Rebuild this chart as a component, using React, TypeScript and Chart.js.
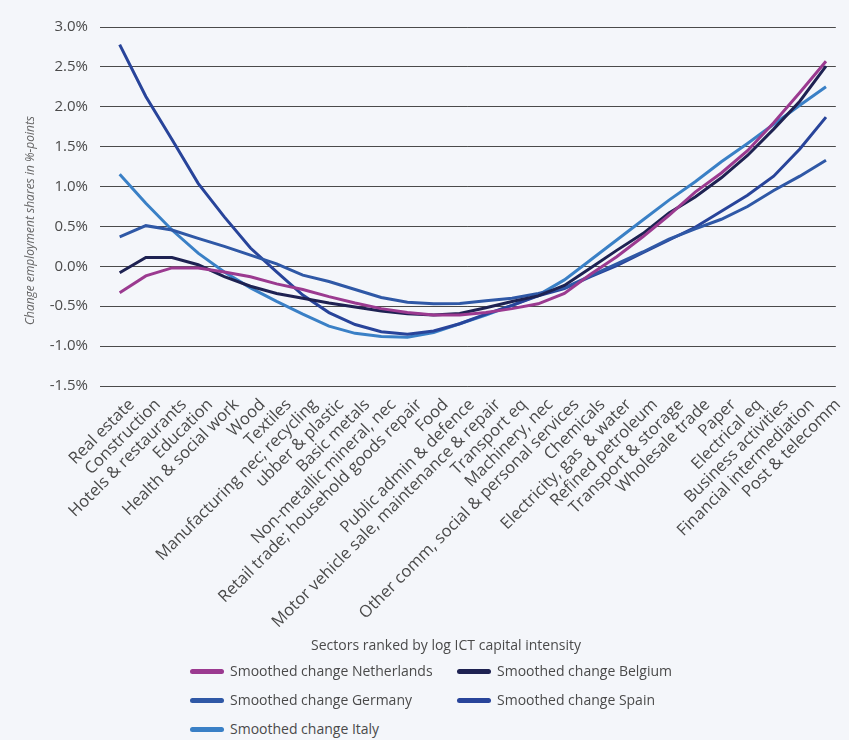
import React, { useEffect, useRef } from "react";
import { Chart, registerables } from "chart.js";

Chart.register(...registerables);

const categories = [
  "Real estate",
  "Construction",
  "Hotels & restaurants",
  "Education",
  "Health & social work",
  "Wood",
  "Textiles",
  "Manufacturing nec; recycling",
  "ubber & plastic",
  "Basic metals",
  "Non-metallic mineral, nec",
  "Retail trade; household goods repair",
  "Food",
  "Public admin & defence",
  "Motor vehicle sale, maintenance & repair",
  "Transport eq",
  "Machinery, nec",
  "Other comm, social & personal services",
  "Chemicals",
  "Electricity, gas  & water",
  "Refined petroleum",
  "Transport & storage",
  "Wholesale trade",
  "Paper",
  "Electrical eq",
  "Business activities",
  "Financial intermediation",
  "Post & telecomm",
];

const netherlands = [
  -0.33, -0.12, -0.02, -0.02, -0.07, -0.13, -0.22, -0.29, -0.38, -0.46, -0.53,
  -0.58, -0.61, -0.61, -0.58, -0.53, -0.47, -0.34, -0.1, 0.12, 0.37, 0.64, 0.93,
  1.17, 1.45, 1.8, 2.18, 2.57,
];
const belgium = [
  -0.08, 0.11, 0.11, 0.02, -0.13, -0.25, -0.34, -0.4, -0.46, -0.51, -0.56,
  -0.595, -0.61, -0.59, -0.52, -0.44, -0.37, -0.24, -0.02, 0.2, 0.41, 0.67,
  0.87, 1.11, 1.39, 1.72, 2.07, 2.51,
];
const germany = [
  0.37, 0.51, 0.455, 0.35, 0.25, 0.14, 0.03, -0.11, -0.19, -0.29, -0.39, -0.45,
  -0.47, -0.465, -0.43, -0.4, -0.34, -0.27, -0.12, 0.03, 0.18, 0.34, 0.47, 0.59,
  0.75, 0.95, 1.13, 1.33,
];
const spain = [
  2.78, 2.13, 1.59, 1.04, 0.62, 0.23, -0.07, -0.36, -0.58, -0.73, -0.82, -0.85,
  -0.81, -0.72, -0.6, -0.49, -0.37, -0.28, -0.13, 0.01, 0.17, 0.33, 0.49, 0.69,
  0.89, 1.13, 1.47, 1.87,
];
const italy = [
  1.155, 0.79, 0.455, 0.165, -0.07, -0.27, -0.44, -0.6, -0.75, -0.84, -0.88,
  -0.89, -0.83, -0.72, -0.61, -0.49, -0.36, -0.17, 0.08, 0.33, 0.58, 0.83, 1.06,
  1.31, 1.54, 1.78, 2.02, 2.25,
];

const yTickValues = [-1.5, -1.0, -0.5, 0.0, 0.5, 1.0, 1.5, 2.0, 2.5, 3.0];

const seriesNames = [
  "Smoothed change Netherlands",
  "Smoothed change Belgium",
  "Smoothed change Germany",
  "Smoothed change Spain",
  "Smoothed change Italy",
];
const seriesValues = [netherlands, belgium, germany, spain, italy];
const seriesColors = ["#9b3a90", "#1e2252", "#2f58a6", "#28449a", "#3a80c6"];

const xTitle = "Sectors ranked by log ICT capital intensity";
const yTitle = "Change employment shares in %-points";

const FONT = '"Open Sans", "Noto Sans", sans-serif';
const BG = "#f4f6fa";
const TEXT = "#4a4a4a";

export default function App() {
  const canvasRef = useRef<HTMLCanvasElement | null>(null);

  useEffect(() => {
    document.body.style.margin = "0";
    document.body.style.background = BG;
    const canvas = canvasRef.current;
    if (!canvas) return;
    const chart = new Chart(canvas, {
      type: "line",
      data: {
        datasets: seriesValues.map((vals, k) => ({
          label: seriesNames[k],
          data: vals.map((v, i) => ({ x: i, y: v })),
          borderColor: seriesColors[k],
          backgroundColor: seriesColors[k],
          borderWidth: 3,
          pointRadius: 0,
          tension: 0,
          fill: false,
        })),
      },
      options: {
        animation: false,
        responsive: false,
        layout: { padding: { top: 27, right: 1, left: 0, bottom: 0 } },
        plugins: {
          legend: { display: false },
          tooltip: { enabled: false },
        },
        scales: {
          x: {
            type: "linear",
            min: -0.752,
            max: 27.376,
            afterBuildTicks: (s: any) => {
              s.ticks = categories.map((_, i) => ({ value: i }));
            },
            afterFit: (s: any) => {
              s.height = 274;
            },
            ticks: {
              autoSkip: false,
              minRotation: 45,
              maxRotation: 45,
              padding: 9,
              labelOffset: 12,
              color: TEXT,
              font: { family: FONT, size: 16.5 },
              callback: (v: any) => categories[v as number],
            },
            grid: { display: false, drawTicks: false },
            border: { display: false },
          },
          y: {
            min: -1.5,
            max: 3.0,
            afterBuildTicks: (s: any) => {
              s.ticks = yTickValues.map((v) => ({ value: v }));
            },
            afterFit: (s: any) => {
              s.width = 100;
            },
            ticks: {
              padding: 12,
              color: TEXT,
              font: { family: FONT, size: 15 },
              callback: (v: any) => Number(v).toFixed(1) + "%",
            },
            grid: { color: "#4a4a4a", lineWidth: 1, drawTicks: false },
            border: { display: false },
            title: {
              display: true,
              text: yTitle + "         ",
              color: "#666666",
              font: { family: FONT, size: 12, style: "italic" },
              padding: { top: 23, bottom: 0 },
            },
          },
        },
      },
    });
    return () => chart.destroy();
  }, []);

  const legendPos = [
    { left: 190, top: 671 },
    { left: 457, top: 671 },
    { left: 190, top: 700 },
    { left: 457, top: 700 },
    { left: 190, top: 729 },
  ];

  return (
    <div
      style={{
        position: "fixed",
        left: 0,
        top: 0,
        width: 849,
        height: 740,
        background: BG,
        fontFamily: FONT,
        color: TEXT,
        overflow: "hidden",
      }}
    >
      <canvas
        ref={canvasRef}
        width={849}
        height={660}
        style={{ position: "absolute", left: 0, top: 0, display: "block" }}
      />
      <div
        style={{
          position: "absolute",
          left: 246,
          width: 400,
          top: 635,
          height: 20,
          lineHeight: "20px",
          textAlign: "center",
          fontSize: 14,
        }}
      >
        {xTitle}
      </div>
      {seriesNames.map((name, k) => (
        <div
          key={name}
          style={{
            position: "absolute",
            left: legendPos[k].left,
            top: legendPos[k].top - 10,
            height: 20,
            lineHeight: "20px",
            display: "flex",
            alignItems: "center",
            fontSize: 14,
            whiteSpace: "nowrap",
          }}
        >
          <span
            style={{
              display: "inline-block",
              width: 34,
              height: 5,
              borderRadius: 3,
              background: seriesColors[k],
              marginRight: 6,
            }}
          />
          {name}
        </div>
      ))}
    </div>
  );
}
